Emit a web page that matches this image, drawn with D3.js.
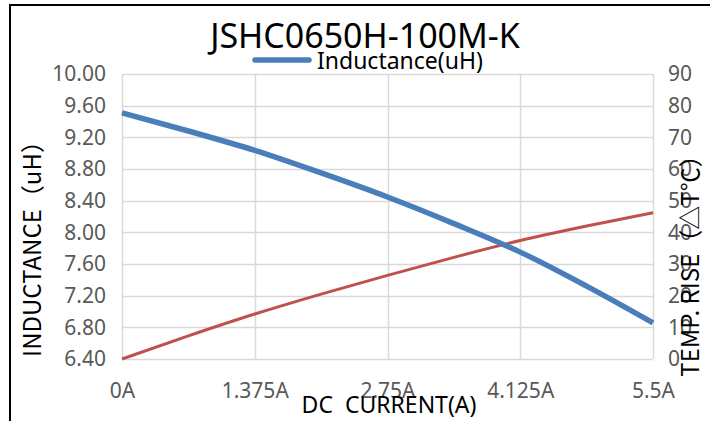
<!DOCTYPE html>
<html>
<head>
<meta charset="utf-8">
<script src="https://d3js.org/d3.v7.min.js"></script>
<style>
  body { margin: 0; background: #fff; }
  text { font-family: "Noto Sans", "Noto Sans CJK SC", sans-serif; }
</style>
</head>
<body>
<script>
// values
var current = [0, 0.6875, 1.375, 2.0625, 2.75, 3.4375, 4.125, 4.8125, 5.5];
var inductance = [9.51, 9.28, 9.035, 8.75, 8.446, 8.11, 7.75, 7.32, 6.856];
var tempRise = [0, 7.3, 14.2, 20.5, 26.4, 32.1, 37.4, 42.0, 46.2];
var xTicks = [0, 1.375, 2.75, 4.125, 5.5];
var xTickLabels = ['0A', '1.375A', '2.75A', '4.125A', '5.5A'];
var leftTicks = [6.4, 6.8, 7.2, 7.6, 8.0, 8.4, 8.8, 9.2, 9.6, 10.0];
var rightTicks = [0, 10, 20, 30, 40, 50, 60, 70, 80, 90];

function draw() {
  "use strict";
  var width = 710, height = 421;
  var pLeft = 122, pRight = 653, pTop = 74, pBottom = 359;

  var svg = d3.select('body').append('svg')
    .attr('width', width)
    .attr('height', height);

  // outer frame
  svg.append('path')
    .attr('d', 'M10,' + height + 'V5H' + width)
    .attr('fill', 'none')
    .attr('stroke', '#000')
    .attr('stroke-width', 2);

  var x = d3.scaleLinear().domain([0, 5.5]).range([pLeft, pRight]);
  var yL = d3.scaleLinear().domain([6.4, 10]).range([pBottom, pTop]);
  var yR = d3.scaleLinear().domain([0, 90]).range([pBottom, pTop]);

  // gridlines
  svg.append('g').selectAll('line')
    .data(leftTicks)
    .enter().append('line')
    .attr('x1', pLeft).attr('x2', pRight)
    .attr('y1', function(d) { return Math.round(yL(d)) + 0.5; })
    .attr('y2', function(d) { return Math.round(yL(d)) + 0.5; })
    .attr('stroke', '#d9d9d9').attr('stroke-width', 1.5);

  svg.append('g').selectAll('line')
    .data(xTicks)
    .enter().append('line')
    .attr('y1', pTop).attr('y2', pBottom)
    .attr('x1', function(d) { return Math.round(x(d)) + 0.5; })
    .attr('x2', function(d) { return Math.round(x(d)) + 0.5; })
    .attr('stroke', '#d9d9d9').attr('stroke-width', 1.5);

  // axes (labels only)
  var xAxis = d3.axisBottom(x).tickValues(xTicks).tickSize(0).tickPadding(24)
    .tickFormat(function(d, i) { return xTickLabels[i]; });
  var yAxisL = d3.axisLeft(yL).tickValues(leftTicks).tickSize(0).tickPadding(16)
    .tickFormat(d3.format('.2f'));
  var yAxisR = d3.axisRight(yR).tickValues(rightTicks).tickSize(0).tickPadding(15);

  function styleAxis(g) {
    g.select('.domain').remove();
    g.selectAll('text')
      .attr('fill', '#595959')
      .style('font-size', '21px')
      .style('font-family', '"Noto Sans", sans-serif');
  }

  svg.append('g').attr('transform', 'translate(0,' + pBottom + ')').call(xAxis).call(styleAxis);
  svg.append('g').attr('transform', 'translate(' + pLeft + ',0)').call(yAxisL).call(styleAxis);
  svg.append('g').attr('transform', 'translate(' + pRight + ',0)').call(yAxisR).call(styleAxis);

  // series
  var lineL = d3.line()
    .x(function(d, i) { return x(current[i]); })
    .y(function(d) { return yL(d); })
    .curve(d3.curveMonotoneX);
  var lineR = d3.line()
    .x(function(d, i) { return x(current[i]); })
    .y(function(d) { return yR(d); })
    .curve(d3.curveMonotoneX);

  svg.append('path').datum(tempRise)
    .attr('d', lineR)
    .attr('fill', 'none')
    .attr('stroke', '#c0504d')
    .attr('stroke-width', 3);

  svg.append('path').datum(inductance)
    .attr('d', lineL)
    .attr('fill', 'none')
    .attr('stroke', '#4a7ebb')
    .attr('stroke-width', 5.5);

  // title
  svg.append('text')
    .attr('x', 365).attr('y', 48)
    .attr('text-anchor', 'middle')
    .style('font-size', '34px')
    .text('JSHC0650H-100M-K');

  // legend
  svg.append('line')
    .attr('x1', 255).attr('x2', 309)
    .attr('y1', 60).attr('y2', 60)
    .attr('stroke', '#4a7ebb').attr('stroke-width', 5.5)
    .attr('stroke-linecap', 'round');
  svg.append('text')
    .attr('x', 317).attr('y', 69)
    .style('font-size', '23px')
    .text('Inductance(uH)');

  // axis titles
  svg.append('text')
    .attr('x', 389).attr('y', 413)
    .attr('text-anchor', 'middle')
    .style('font-size', '23px')
    .style('white-space', 'pre')
    .text('DC  CURRENT(A)');

  svg.append('text')
    .attr('transform', 'translate(41,243) rotate(-90)')
    .attr('text-anchor', 'middle')
    .style('font-family', '"Noto Sans CJK SC", sans-serif')
    .style('font-size', '24px')
    .text('INDUCTANCE（uH）');

  svg.append('text')
    .attr('transform', 'translate(699,260) rotate(-90)')
    .attr('text-anchor', 'middle')
    .style('font-family', '"Noto Sans CJK SC", sans-serif')
    .style('font-size', '24px')
    .text('TEMP. RISE（△T℃）');
}

draw();
</script>
</body>
</html>
